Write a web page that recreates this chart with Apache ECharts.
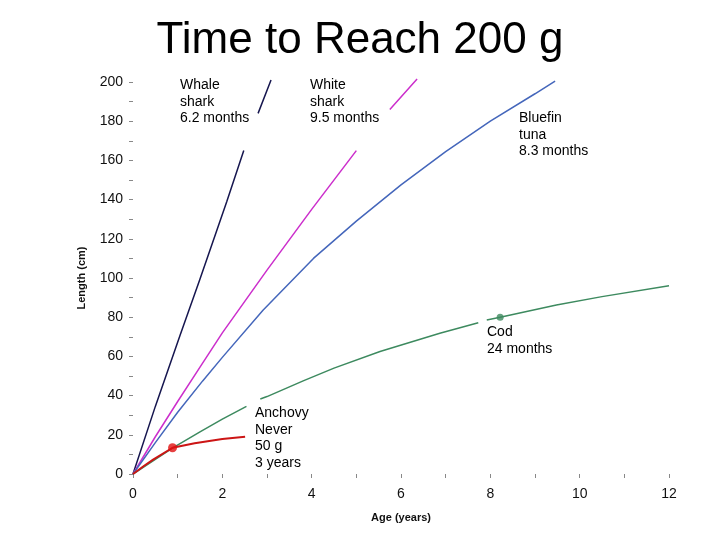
<!DOCTYPE html>
<html>
<head>
<meta charset="utf-8">
<script src="https://cdn.jsdelivr.net/npm/echarts@6/dist/echarts.min.js"></script>
<style>html,body{margin:0;padding:0;background:#fff}#c{width:720px;height:540px}</style>
</head>
<body>
<div id="c"></div>
<script>
// ---- data (age in years, length in cm); null = break in the drawn line ----
const whaleAge   = [0, 0.5, 1.05, 1.5, 2.1, 2.48, 2.65, 2.8, 3.09];
const whaleLen   = [0, 34.5, 70.5, 99.5, 139, 165, null, 184, 201];
const whiteAge   = [0, 0.5, 1, 1.5, 2, 3, 4, 5.0, 5.4, 5.75, 6.36];
const whiteLen   = [0, 19, 37, 54.5, 72, 104, 135, 165, null, 186, 201.5];
const tunaAge    = [0, 0.5, 1, 1.56, 2, 2.91, 4.04, 5, 6, 7, 8, 9, 9.45];
const tunaLen    = [0, 16, 31.5, 47.5, 59.5, 83.5, 110, 129, 147.5, 164.5, 180, 194, 200.5];
const codAge     = [0, 0.5, 0.9, 1.5, 2, 2.54, 2.7, 2.85, 3, 3.81, 4.5, 5.53, 6.87, 7.73, 7.82, 7.92, 8.22, 9.48, 10.5, 12];
const codLen     = [0, 7.5, 13.5, 21.5, 28, 34.5, null, 38.3, 39.5, 47.5, 54, 62.5, 71.8, 77.2, null, 78.6, 80, 86.2, 90.5, 96];
const anchovyAge = [0, 0.25, 0.45, 0.885, 1.38, 2, 2.51];
const anchovyLen = [0, 4.2, 7.3, 13.4, 15.7, 17.8, 19];
const anchovyDot = [0.885, 13.4];
const codDot     = [8.22, 80];
const xTicks = [0, 2, 4, 6, 8, 10, 12];
const yTicks = [0, 20, 40, 60, 80, 100, 120, 140, 160, 180, 200];

function pairs(xs, ys) { return xs.map((x, i) => [x, ys[i] === null ? '-' : ys[i]]); }

const chart = echarts.init(document.getElementById('c'), null, {renderer: 'canvas'});
const font = 'Liberation Sans, Arial, sans-serif';
function lineSeries(name, xs, ys, color, w) {
  return {name, type: 'line', data: pairs(xs, ys), showSymbol: false, symbol: 'none',
    connectNulls: false, clip: false, smooth: false,
    lineStyle: {color, width: w}, z: 2};
}
const annot = [
  {x: 180, y: 77, t: 'Whale\nshark\n6.2 months'},
  {x: 310, y: 77, t: 'White\nshark\n9.5 months'},
  {x: 519, y: 110, t: 'Bluefin\ntuna\n8.3 months'},
  {x: 487, y: 324, t: 'Cod\n24 months'},
  {x: 255, y: 405, t: 'Anchovy\nNever\n50 g\n3 years'}
];
chart.setOption({
  animation: false,
  backgroundColor: '#fff',
  title: {text: 'Time to Reach 200 g', left: 'center', top: 14,
    textStyle: {fontFamily: font, fontSize: 44, fontWeight: 'normal', color: '#000'}},
  grid: {left: 133, right: 51, top: 82, bottom: 66, containLabel: false},
  xAxis: {type: 'value', min: 0, max: 12, interval: 1,
    name: 'Age (years)', nameLocation: 'middle', nameGap: 38,
    nameTextStyle: {fontFamily: font, fontSize: 11, fontWeight: 'bold', color: '#111'},
    axisLine: {show: false},
    axisTick: {show: true, length: 4, lineStyle: {color: '#888'}},
    splitLine: {show: false},
    axisLabel: {margin: 13, fontFamily: font, fontSize: 14, color: '#111',
      formatter: v => xTicks.includes(v) ? String(v) : ''}},
  yAxis: {type: 'value', min: 0, max: 200, interval: 10,
    name: 'Length (cm)', nameLocation: 'middle', nameGap: 46, nameRotate: 90,
    nameTextStyle: {fontFamily: font, fontSize: 11, fontWeight: 'bold', color: '#111'},
    axisLine: {show: false},
    axisTick: {show: true, length: 4, lineStyle: {color: '#888'}},
    splitLine: {show: false},
    axisLabel: {margin: 10, fontFamily: font, fontSize: 14, color: '#111',
      formatter: v => yTicks.includes(v) ? String(v) : ''}},
  graphic: annot.map(a => ({type: 'text', left: a.x, top: a.y, z: 10,
    style: {text: a.t, font: '14px ' + font, fill: '#000', lineHeight: 16.5}})),
  series: [
    lineSeries('Whale shark', whaleAge, whaleLen, '#16164f', 1.5),
    lineSeries('White shark', whiteAge, whiteLen, '#cc2ecc', 1.5),
    lineSeries('Bluefin tuna', tunaAge, tunaLen, '#4466bb', 1.5),
    lineSeries('Cod', codAge, codLen, '#3d8a5f', 1.5),
    lineSeries('Anchovy', anchovyAge, anchovyLen, '#cc1515', 2),
    {type: 'scatter', data: [anchovyDot], symbolSize: 9, itemStyle: {color: '#e01010'}, z: 5},
    {type: 'scatter', data: [codDot], symbolSize: 7, itemStyle: {color: '#3d8a5f'}, z: 5}
  ]
});
</script>
</body>
</html>
